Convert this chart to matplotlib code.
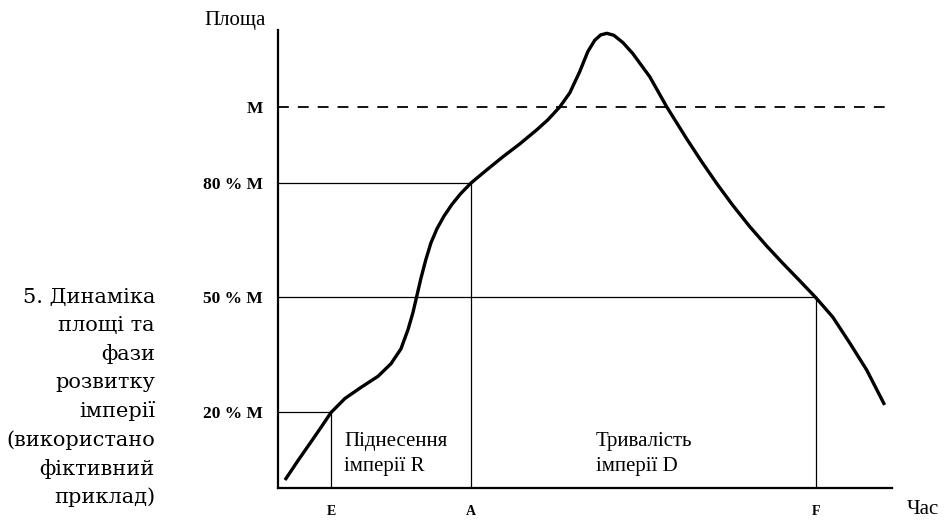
import matplotlib.pyplot as plt

plt.rcParams['font.family'] = ['Liberation Serif', 'DejaVu Serif']

# === Дані (час у довільних одиницях, площа у % від M) ===
time = [0.7, 2.0, 3.3, 4.3, 5.3, 6.7, 8.3, 10.0, 11.3, 12.3, 13.0, 13.5,
        13.9, 14.3, 14.8, 15.3, 15.9, 16.6, 17.4, 18.3, 19.3, 20.9, 22.5,
        24.2, 25.9, 27.0, 28.2, 29.2, 30.2, 31.0, 31.7, 32.3, 32.9, 33.6,
        34.5, 35.5, 37.2, 38.9, 40.9, 42.4, 43.9, 45.5, 47.2, 48.9, 50.5,
        52.2, 53.8, 55.5, 57.2, 58.9, 60.7]
area = [2.1, 7.2, 12.1, 15.9, 19.8, 23.5, 26.4, 29.3, 32.6, 36.5, 41.5, 46.0,
        50.5, 55.0, 60.0, 64.3, 68.0, 71.3, 74.4, 77.3, 80.0, 83.5, 86.9,
        90.3, 94.0, 96.6, 100.0, 103.7, 109.3, 114.5, 117.5, 118.9, 119.3, 118.8,
        116.9, 114.0, 107.9, 100.0, 91.6, 85.6, 79.9, 74.2, 68.6, 63.5, 59.0,
        54.4, 50.0, 44.9, 38.1, 31.0, 21.8]

levels = [20, 50, 80, 100]
level_labels = ['20 % M', '50 % M', '80 % M', 'M']
phase_times = [5.3, 19.3, 53.8]     # E, A, F
phase_levels = [20, 80, 50]
phase_labels = ['E', 'A', 'F']

caption = ['5. Динаміка', 'площі та', 'фази', 'розвитку', 'імперії',
           '(використано', 'фіктивний', 'приклад)']

fig = plt.figure(figsize=(9.44, 5.2), dpi=100)
ax = fig.add_axes([0.2945, 0.0615, 0.650, 0.881])
ax.set_xlim(0, 61.4)
ax.set_ylim(0, 120.2)

for s in ['top', 'right']:
    ax.spines[s].set_visible(False)
for s in ['left', 'bottom']:
    ax.spines[s].set_linewidth(1.6)

# допоміжні лінії
for t, lv in zip(phase_times, phase_levels):
    ax.plot([0, t], [lv, lv], color='black', lw=0.9)
    ax.plot([t, t], [0, lv], color='black', lw=0.9)
ax.axhline(100, color='black', lw=1.3, dashes=(6, 5))

# крива площі
ax.plot(time, area, color='black', lw=2.4, solid_joinstyle='round',
        solid_capstyle='butt', clip_on=False)

ax.set_yticks(levels, level_labels, fontsize=12.5, fontweight='bold')
ax.set_xticks(phase_times, phase_labels, fontsize=10, fontweight='bold')
ax.tick_params(axis='y', length=0, pad=11)
ax.tick_params(axis='x', length=0, pad=12)

ax.text(6.6, 8.9, 'Піднесення\nімперії R', fontsize=15, va='center',
        ha='left', linespacing=1.45)
ax.text(31.8, 8.9, 'Тривалість\nімперії D', fontsize=15, va='center',
        ha='left', linespacing=1.45)

fig.text(235 / 944, 1 - 20 / 520, 'Площа', fontsize=15, ha='center', va='center')
fig.text(923 / 944, 1 - 510 / 520, 'Час', fontsize=15, ha='center', va='center')

# підпис ліворуч, рядок за рядком
for i, line in enumerate(caption):
    fig.text(155 / 944, 1 - (297 + i * 28.6) / 520, line, fontsize=15,
             family=['DejaVu Serif'], ha='right', va='center')

fig.savefig('out.png', dpi=100)
